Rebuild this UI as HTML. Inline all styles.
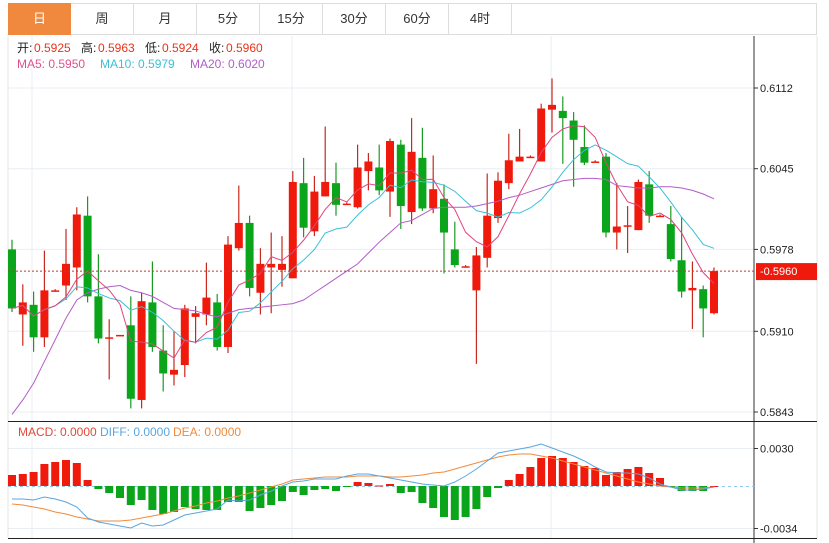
<!DOCTYPE html>
<html><head><meta charset="utf-8">
<style>
body{margin:0;background:#fff;font-family:"Liberation Sans","Noto Sans CJK SC",sans-serif;}
#wrap{position:relative;width:829px;height:543px;overflow:hidden;background:#fff;}
.tab{position:absolute;top:3px;height:32px;line-height:32px;text-align:center;font-size:13px;color:#333;border-right:1px solid #ddd;box-sizing:border-box;cursor:pointer;}
</style></head><body>
<div id="wrap">
<div style="position:absolute;left:8px;top:3px;width:809px;height:32px;border:1px solid #ddd;box-sizing:border-box;"></div>
<div class="tab" style="left:8px;width:63px;background:#f0883e;color:#fff;border:none;">日</div>
<div class="tab" style="left:71px;width:63px;">周</div>
<div class="tab" style="left:134px;width:63px;">月</div>
<div class="tab" style="left:197px;width:63px;">5分</div>
<div class="tab" style="left:260px;width:63px;">15分</div>
<div class="tab" style="left:323px;width:63px;">30分</div>
<div class="tab" style="left:386px;width:63px;">60分</div>
<div class="tab" style="left:449px;width:63px;">4时</div>
<svg id="svg" width="829" height="543" style="position:absolute;left:0;top:0" font-family="Liberation Sans, Noto Sans CJK SC, sans-serif">
</svg>
</div>
<script>
const opens=[0.5978,0.5924,0.5932,0.5905,0.5944,0.5948,0.5963,0.6006,0.5939,0.5904,0.5906,0.5915,0.5853,0.5934,0.5894,0.5874,0.5882,0.5922,0.5924,0.5934,0.5897,0.5979,0.6000,0.5942,0.5963,0.5961,0.5954,0.6033,0.5993,0.6022,0.6033,0.6016,0.6013,0.6043,0.6046,0.6026,0.6065,0.6009,0.6054,0.6012,0.6020,0.5978,0.5964,0.5944,0.5971,0.6004,0.6033,0.6051,0.6055,0.6051,0.6094,0.6093,0.6085,0.6063,0.6051,0.6055,0.5992,0.5997,0.5994,0.6032,0.6006,0.5999,0.5969,0.5944,0.5945,0.5925];
const highs=[0.5986,0.5949,0.5943,0.5977,0.5945,0.5995,0.6013,0.6022,0.5974,0.5920,0.5907,0.5939,0.5942,0.5968,0.5915,0.5910,0.5932,0.5931,0.5967,0.5941,0.5989,0.6031,0.6006,0.5979,0.5992,0.5989,0.6043,0.6054,0.6039,0.6080,0.6050,0.6017,0.6065,0.6058,0.6065,0.6070,0.6069,0.6087,0.6079,0.6056,0.6032,0.6001,0.5965,0.5980,0.6041,0.6042,0.6074,0.6078,0.6056,0.6099,0.6120,0.6105,0.6092,0.6081,0.6052,0.6058,0.6033,0.6014,0.6036,0.6043,0.6007,0.6014,0.6005,0.5968,0.5948,0.5963];
const lows=[0.5926,0.5898,0.5893,0.5897,0.5943,0.5936,0.5944,0.5934,0.5900,0.5870,0.5906,0.5846,0.5846,0.5893,0.5860,0.5865,0.5872,0.5900,0.5915,0.5894,0.5892,0.5977,0.5939,0.5924,0.5925,0.5947,0.5954,0.5988,0.5989,0.6022,0.6006,0.6015,0.6012,0.6027,0.6023,0.6005,0.5995,0.5999,0.6010,0.6008,0.5958,0.5963,0.5963,0.5883,0.5963,0.6000,0.6028,0.6051,0.6054,0.6051,0.6075,0.6049,0.6030,0.6048,0.6050,0.5988,0.5978,0.5975,0.5994,0.6000,0.6005,0.5968,0.5938,0.5912,0.5905,0.5924];
const closes=[0.5929,0.5934,0.5905,0.5944,0.5944,0.5966,0.6007,0.5939,0.5904,0.5905,0.5907,0.5854,0.5935,0.5897,0.5875,0.5878,0.5929,0.5925,0.5938,0.5897,0.5982,0.6000,0.5946,0.5966,0.5966,0.5966,0.6034,0.5996,0.6026,0.6034,0.6015,0.6016,0.6046,0.6051,0.6027,0.6068,0.6014,0.6059,0.6012,0.6028,0.5992,0.5965,0.5964,0.5973,0.6006,0.6035,0.6052,0.6055,0.6055,0.6095,0.6098,0.6087,0.6069,0.6050,0.6051,0.5992,0.5997,0.5998,0.6034,0.6006,0.6006,0.5970,0.5943,0.5946,0.5929,0.5960];
const ma20=[0.5841,0.5853,0.5867,0.5885,0.5903,0.5921,0.5936,0.5942,0.5945,0.5947,0.5948,0.5944,0.5942,0.5939,0.5934,0.5929,0.5928,0.5927,0.5924,0.5922,0.5925,0.5928,0.5929,0.5930,0.5931,0.5932,0.5933,0.5936,0.5942,0.5948,0.5954,0.5960,0.5966,0.5975,0.5984,0.5992,0.6000,0.6002,0.6007,0.6012,0.6013,0.6013,0.6013,0.6014,0.6016,0.6018,0.6021,0.6023,0.6026,0.6029,0.6032,0.6035,0.6036,0.6037,0.6037,0.6036,0.6031,0.6030,0.6029,0.6029,0.6030,0.6030,0.6029,0.6027,0.6024,0.6020];
const macdHist=[0.00088,0.00096,0.00112,0.00176,0.00192,0.00208,0.00184,0.00048,-0.00024,-0.00056,-0.00096,-0.00152,-0.00112,-0.00192,-0.00224,-0.00208,-0.00168,-0.00184,-0.00192,-0.00192,-0.00128,-0.00128,-0.002,-0.00176,-0.00152,-0.0012,-0.00048,-0.00072,-0.00032,-0.00024,-0.0004,-0.00008,0.00032,0.00024,0.00004,0.00016,-0.00056,-0.00048,-0.00136,-0.00176,-0.00248,-0.00272,-0.00248,-0.00184,-0.00088,-0.00016,0.00048,0.00096,0.00152,0.00224,0.0024,0.00224,0.00192,0.0016,0.00144,0.00088,0.00112,0.00136,0.00152,0.00104,0.00064,-0.00008,-0.0004,-0.0004,-0.0004,0];
const diffVals=[-0.00104,-0.00104,-0.00112,-0.00088,-0.00104,-0.00128,-0.00168,-0.00256,-0.00288,-0.00304,-0.0032,-0.00336,-0.00296,-0.0032,-0.00312,-0.00272,-0.00232,-0.00216,-0.002,-0.00184,-0.00112,-0.0012,-0.00112,-0.00072,-0.0004,0,0.00032,0.0004,0.00056,0.00056,0.00056,0.0008,0.00096,0.00096,0.0008,0.00064,0.00048,0.00032,0.00016,0.00008,0,0.00032,0.0008,0.00136,0.002,0.00264,0.0028,0.00296,0.00312,0.00336,0.00304,0.00272,0.0024,0.002,0.00152,0.00112,0.00104,0.00104,0.00096,0.00064,0.00016,-0.00008,-0.00032,-0.00032,-0.00024,-0.00008];
const deaVals=[-0.00144,-0.00152,-0.00168,-0.00184,-0.00208,-0.00224,-0.00248,-0.00264,-0.0028,-0.0028,-0.0028,-0.00272,-0.00256,-0.0024,-0.00224,-0.002,-0.00176,-0.0016,-0.00136,-0.0012,-0.00096,-0.0008,-0.00056,-0.00032,-0.00008,0.00016,0.00048,0.00056,0.00064,0.00072,0.00072,0.00072,0.0008,0.0008,0.0008,0.00072,0.00072,0.0008,0.00088,0.00104,0.00112,0.00136,0.0016,0.00184,0.00208,0.00232,0.00248,0.00256,0.00256,0.0024,0.00224,0.002,0.00176,0.00152,0.00128,0.00104,0.0008,0.00056,0.00032,0.00016,0,-0.00008,-0.00016,-0.00016,-0.00016,-0.00008];
const priceTicks=[0.6112,0.6045,0.5978,0.5910,0.5843];
const macdTicks=[0.0030,-0.0034];

const svg=document.getElementById('svg');
const NS='http://www.w3.org/2000/svg';
function mk(tag,attrs,parent){const e=document.createElementNS(NS,tag);for(const k in attrs)e.setAttribute(k,attrs[k]);(parent||svg).appendChild(e);return e;}
const X=i=>12+i*10.8;
const Y=p=>88+(0.6112-p)*12045;
const MY=v=>486-v*12500;
const red='#f01a0c',green='#0aa51a';

let g=mk('g',{});
[32,292,551].forEach(x=>mk('line',{x1:x,y1:36,x2:x,y2:538,stroke:'#e8eef4'},g));
priceTicks.forEach(t=>mk('line',{x1:8,y1:Y(t),x2:754,y2:Y(t),stroke:'#e8eef4'},g));
macdTicks.forEach(t=>mk('line',{x1:8,y1:MY(t),x2:754,y2:MY(t),stroke:'#e8eef4'},g));
mk('line',{x1:8,y1:36,x2:8,y2:538,stroke:'#e4e4e4'});
mk('line',{x1:817,y1:36,x2:817,y2:538,stroke:'#e4e4e4'});
mk('line',{x1:754,y1:36,x2:754,y2:543,stroke:'#333'});
mk('line',{x1:8,y1:421.5,x2:817,y2:421.5,stroke:'#222'});
mk('line',{x1:8,y1:538.5,x2:817,y2:538.5,stroke:'#222'});

let ya=mk('g',{});
priceTicks.forEach(t=>{mk('line',{x1:754,y1:Y(t),x2:758,y2:Y(t),stroke:'#333'},ya);
 const tx=mk('text',{x:760,y:Y(t)+4,'font-size':11,fill:'#222'},ya);tx.textContent=t.toFixed(4);});
let ma=mk('g',{});
macdTicks.forEach(t=>{mk('line',{x1:754,y1:MY(t),x2:758,y2:MY(t),stroke:'#333'},ma);
 const tx=mk('text',{x:760,y:MY(t)+4,'font-size':11,fill:'#222'},ma);tx.textContent=t.toFixed(4);});

let cg=mk('g',{});
for(let i=0;i<closes.length;i++){
 const up=closes[i]>=opens[i];const c=up?red:green;const x=X(i);
 const cd=mk('g',{},cg);
 
 
 mk('line',{x1:x,y1:Y(highs[i]),x2:x,y2:Y(lows[i]),stroke:up?'#c8281c':'#1a9a22','stroke-width':1.2},cd);
 const t=Y(Math.max(opens[i],closes[i])),b=Y(Math.min(opens[i],closes[i]));
 mk('rect',{x:x-4,y:t,width:8,height:Math.max(1.5,b-t),fill:c},cd);
}
function maCalc(n){return closes.map((c,i)=>{const s=closes.slice(Math.max(0,i-n+1),i+1);return s.reduce((a,b)=>a+b,0)/s.length;});}
function line(vals,yf,color,name){const p=mk('polyline',{points:vals.map((v,i)=>X(i)+','+yf(v)).join(' '),fill:'none',stroke:color,'stroke-width':1});
 }
line(ma20,Y,'#b35cc8','ma20-line');
line(maCalc(10),Y,'#3cbfd6','ma10-line');
line(maCalc(5),Y,'#e0457f','ma5-line');

const lp=closes[closes.length-1];
let lpl=mk('line',{x1:8,y1:Y(lp),x2:754,y2:Y(lp),stroke:'#c0392b','stroke-dasharray':'2,2'});

let lg=mk('g',{});
mk('rect',{x:756,y:Y(lp)-8,width:61,height:17,fill:red},lg);
let lt=mk('text',{x:760,y:Y(lp)+4,'font-size':11,fill:'#fff'},lg);lt.textContent='-'+lp.toFixed(4);

let mg=mk('g',{});
mk('line',{x1:8,y1:486.5,x2:754,y2:486.5,stroke:'#8cc8e8','stroke-dasharray':'3,3'},mg);
macdHist.forEach((v,i)=>{const y0=MY(0),y1=MY(v);
 const r=mk('rect',{x:X(i)-4,y:Math.min(y0,y1),width:8,height:Math.max(1,Math.abs(y1-y0)),fill:v>=0?red:green},mg);
 
 });
line(deaVals,MY,'#f08a3c','dea-line');
line(diffVals,MY,'#5aa6e0','diff-line');

function txt(x,y,s,c,name){const t=mk('text',{x:x,y:y,'font-size':12,fill:c});t.textContent=s;return t;}
const L=[['开:',opens],['高:',highs],['低:',lows],['收:',closes]];
let lx=17;L.forEach((a,k)=>{txt(lx,52,a[0],'#222','ohlc-label');const v=a[1][a[1].length-1].toFixed(4);txt(lx+17,52,v,'#e8341c','ohlc-value');lx+=64;});
const ma5=maCalc(5),ma10=maCalc(10);
txt(17,68,'MA5: '+ma5[ma5.length-1].toFixed(4),'#e0508a','ma5-legend');
txt(100,68,'MA10: '+ma10[ma10.length-1].toFixed(4),'#3cbfd6','ma10-legend');
txt(190,68,'MA20: '+ma20[ma20.length-1].toFixed(4),'#b05ec8','ma20-legend');
txt(18,436,'MACD: 0.0000','#e04a3a','macd-legend');
txt(100,436,'DIFF: 0.0000','#5aa6e0','diff-legend');
txt(173,436,'DEA: 0.0000','#f08a3c','dea-legend');
</script>
</body></html>
